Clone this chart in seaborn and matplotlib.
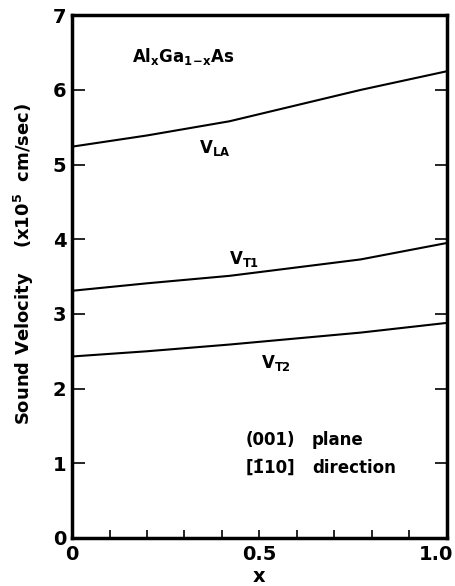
import numpy as np
import pandas as pd
import matplotlib
matplotlib.use("Agg")
import matplotlib.pyplot as plt
import matplotlib.transforms as mtransforms
import seaborn as sns

# Sound velocities in AlxGa1-xAs versus Al fraction x (units of 1e5 cm/s)
x_frac = [0.0, 0.2, 0.42, 0.77, 1.0]
v_la = [5.24, 5.39, 5.58, 6.00, 6.25]
v_t1 = [3.31, 3.41, 3.51, 3.73, 3.95]
v_t2 = [2.43, 2.50, 2.59, 2.75, 2.88]
modes = ["LA", "T1", "T2"]

x_ticks = [0.0, 0.1, 0.2, 0.3, 0.4, 0.5, 0.6, 0.7, 0.8, 0.9, 1.0]
x_tick_labels = ["0", "", "", "", "", "0.5", "", "", "", "", "1.0"]
y_ticks = [0, 1, 2, 3, 4, 5, 6, 7]

df = pd.DataFrame({
    "x": x_frac * 3,
    "v": v_la + v_t1 + v_t2,
    "mode": [m for m in modes for _ in x_frac],
})

sns.set_style("ticks")
plt.rcParams["font.family"] = ["DejaVu Sans"]

fig = plt.figure(figsize=(4.56, 5.86), dpi=100)
ax = fig.add_axes([0.158, 0.082, 0.822, 0.892])

sns.lineplot(data=df, x="x", y="v", hue="mode", palette=["black"] * 3,
             estimator=None, linewidth=1.5, legend=False, ax=ax)

ax.set_xlim(0, 1.0)
ax.set_ylim(0, 7)
ax.set_xticks(x_ticks)
ax.set_xticklabels(x_tick_labels)
ax.set_yticks(y_ticks)
ax.set_yticklabels([str(t) for t in y_ticks])

for s in ax.spines.values():
    s.set_linewidth(2.5)
    s.set_color("black")

ax.tick_params(axis="x", direction="in", length=6, width=1.2, top=False,
               labelsize=14, pad=5, colors="black")
ax.tick_params(axis="y", direction="in", length=9, width=1.2, right=True,
               labelsize=14, pad=4, colors="black")
for lab in ax.get_xticklabels() + ax.get_yticklabels():
    lab.set_fontweight("bold")

# keep the last x tick label inside the figure edge
last = ax.get_xticklabels()[-1]
last.set_transform(last.get_transform() +
                   mtransforms.ScaledTranslation(-11 / 100, 0, fig.dpi_scale_trans))

ax.set_xlabel("x", fontsize=14, fontweight="bold", color="black")
ax.xaxis.set_label_coords(0.5, -0.056)
ax.set_ylabel(r"Sound Velocity    (x10$^{\mathbf{5}}$  cm/sec)", fontsize=13,
              fontweight="bold", color="black")
ax.yaxis.set_label_coords(-0.096, 0.525)

tk = dict(fontsize=12, fontweight="bold", color="black")
ax.text(0.16, 6.45, r"Al$_{\mathbf{x}}$Ga$_{\mathbf{1\!-\!x}}$As", va="center", **tk)
ax.text(0.34, 5.22, r"V$_{\mathbf{LA}}$", va="center", **tk)
ax.text(0.42, 3.74, r"V$_{\mathbf{T1}}$", va="center", **tk)
ax.text(0.505, 2.34, r"V$_{\mathbf{T2}}$", va="center", **tk)
ax.text(0.595, 1.31, "(001)", ha="right", va="center", **tk)
ax.text(0.64, 1.31, "plane", ha="left", va="center", **tk)
ax.text(0.595, 0.94, "[1\u030410]", ha="right", va="center", **tk)
ax.text(0.64, 0.94, "direction", ha="left", va="center", **tk)

fig.savefig("out.png", dpi=100)
